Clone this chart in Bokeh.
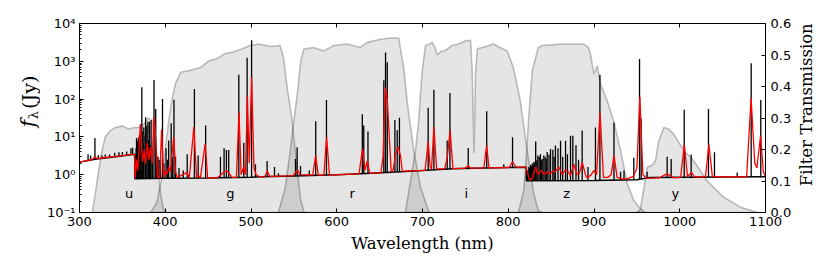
import math
import numpy as np
from bokeh.plotting import figure
from bokeh.layouts import row
from bokeh.models import Range1d, LinearAxis, FixedTicker, PrintfTickFormatter, LinearScale
from bokeh.core.properties import value
from bokeh.embed import file_html
from bokeh.resources import INLINE

# ---------------- data ----------------
# filter transmission curves (wavelength nm, transmission)
u_wl = [315, 320.6, 325, 330, 336, 342, 350, 357, 364, 369, 375, 380.5, 385, 388, 390.6, 394.5, 398, 402]
u_T = [0, 0.10, 0.18, 0.24, 0.26, 0.27, 0.275, 0.265, 0.27, 0.27, 0.28, 0.30, 0.29, 0.24, 0.165, 0.06, 0.01, 0]
g_wl = [383, 390, 396, 400, 404, 408, 412, 418, 427, 441, 450, 461, 470, 480, 490, 499, 509, 523, 534, 538, 542, 548, 554, 558, 562]
g_T = [0, 0.03, 0.11, 0.2, 0.29, 0.36, 0.41, 0.445, 0.45, 0.46, 0.48, 0.49, 0.505, 0.51, 0.52, 0.53, 0.535, 0.527, 0.53, 0.49, 0.4, 0.29, 0.133, 0.04, 0]
r_wl = [532, 540, 545, 550, 554, 558, 561.6, 573, 585, 596.6, 612, 627.7, 635.5, 651, 662.7, 672.4, 674, 678, 682, 689.8, 697.7, 705.5, 708]
r_T = [0, 0.08, 0.18, 0.29, 0.376, 0.48, 0.519, 0.524, 0.513, 0.53, 0.535, 0.524, 0.54, 0.55, 0.554, 0.554, 0.524, 0.46, 0.355, 0.197, 0.08, 0.017, 0]
i_wl = [680, 688, 692, 695.5, 699.6, 703.5, 708, 711.3, 715, 717, 721, 727, 734.5, 742, 750, 756, 758, 760, 762, 764, 770, 783, 793, 798.8, 806, 814, 822, 829.8, 835, 840]
i_T = [0, 0.133, 0.2, 0.29, 0.449, 0.53, 0.535, 0.54, 0.52, 0.5, 0.51, 0.515, 0.53, 0.535, 0.545, 0.547, 0.45, 0.19, 0.45, 0.52, 0.524, 0.535, 0.52, 0.513, 0.46, 0.355, 0.197, 0.06, 0.006, 0]
z_wl = [812, 818, 820, 823.6, 828, 835, 840, 850, 861, 875, 887.7, 893.6, 896, 900, 903.8, 907.6, 915.4, 923, 931, 938.7, 946.4, 954, 960]
z_T = [0, 0.07, 0.133, 0.29, 0.45, 0.524, 0.53, 0.532, 0.535, 0.535, 0.535, 0.524, 0.5, 0.44, 0.466, 0.408, 0.355, 0.29, 0.197, 0.092, 0.038, 0.013, 0]
y_wl = [950, 954, 958, 962, 968, 971.7, 975.6, 981.4, 987, 993, 1004.7, 1016, 1032, 1051, 1071, 1086, 1092]
y_T = [0, 0.01, 0.073, 0.144, 0.15, 0.165, 0.228, 0.27, 0.265, 0.249, 0.197, 0.165, 0.1, 0.049, 0.017, 0.004, 0]
band_names = ["u", "g", "r", "i", "z", "y"]
band_label_wl = [358, 476, 618, 751, 868, 995]
band_label_T = [0.06, 0.06, 0.06, 0.06, 0.06, 0.06]

# high resolution spectrum: continuum knots (nm, Jy)
cont_wl = [300, 320, 340, 364.5, 364.6, 400, 450, 500, 550, 600, 640, 680, 735, 800, 821, 821.1, 900, 950, 965, 1100]
cont_f = [2.15, 2.6, 2.95, 3.5, 0.78, 0.8, 0.82, 0.86, 0.93, 1.0, 1.1, 1.22, 1.43, 1.55, 1.58, 0.69, 0.7, 0.74, 0.84, 0.88]

# emission lines (nm, peak Jy)
line_wl = [310, 313, 318, 322, 326.5, 330, 335, 341, 346, 350, 355, 360, 362,
           365.2, 365.6, 366.0, 366.5, 367.0, 367.5, 368.0, 368.7, 369.3, 370.0, 370.7, 371.5, 372.7, 373.5, 374.2,
           375.0, 376.5, 377.1, 378.5, 379.8, 380.7, 381.6, 382.5, 383.5, 385.0, 386.9, 388.9, 390.0, 391.5, 393.0,
           394.5, 396.8, 398.5, 400.9, 402.5, 404, 406.9, 408.2, 410.2, 412, 416, 421, 425.6, 434.0, 438.4, 447.1,
           464.4, 468.6, 471.3, 474, 485.8, 491.6, 495.5, 500.7, 505.2, 518.8, 527.4, 532, 551.9, 553.8, 557.7, 568,
           575.5, 588, 629.8, 631.5, 636.4, 654.9, 656.9, 658.9, 667.8, 670.5, 673.1, 706.6, 713.3, 728.8, 732.0,
           753.3, 774.9, 794.8, 805,
           822.5, 824, 825, 826, 827, 828, 829, 830, 831, 832, 833.3, 834.5, 836, 837.5, 838.5, 839.6, 841.5, 843,
           844.3, 845.4, 847.5, 849.3, 852, 853.5, 855, 858, 861, 863.5, 866.8, 869, 872.6, 875.3, 879, 882, 886.2,
           893, 901.7,
           906.9, 923.3, 931, 935, 946.4, 953.1, 955, 962, 985.3, 990, 1005.2, 1013.3, 1033.5, 1040.5, 1067, 1083.3, 1094.5]
line_peak = [3.5, 3.2, 9.3, 3.3, 3.2, 3.4, 3.4, 3.8, 3.9, 4.0, 4.1, 5.0, 5.2,
             2.5, 3.5, 5, 9.4, 6, 7, 8, 9, 10, 11, 12, 13, 205, 14, 6,
             18, 11, 33, 20, 25, 8, 25, 6, 28, 4, 320, 55, 3, 3, 2.5,
             2.5, 100, 2, 5, 2.5, 8, 23, 3, 96, 3, 1.5, 1.3, 3.5, 186, 3.2, 20,
             3, 5, 4.5, 4.5, 440, 7, 1240, 3600, 1.9, 2.3, 1.6, 1.1, 2.6, 5.3, 1.7, 1.3,
             26, 95, 40, 20, 14, 316, 1700, 940, 28, 15, 32, 59, 178, 8, 145,
             5.1, 48, 1.9, 9.8,
             1.3, 1.6, 1.5, 1.8, 1.7, 2.0, 1.9, 2.2, 2.0, 7.6, 2.4, 3.2, 3.0, 3.5, 2.4, 2.6, 3.2, 3.0,
             2.6, 4.0, 3.4, 4.8, 4.6, 3.0, 5.9, 5.0, 7.9, 3.0, 7.9, 3.5, 10.7, 10.7, 6, 2.5, 14.8,
             1.6, 17.8,
             440, 24, 1.2, 1.3, 2.8, 1150, 30, 1.2, 3.0, 2.6, 52, 3.4, 55, 3.9, 1.15, 890, 95]

# low resolution (smoothed) spectrum
red_wl = [300, 310, 315, 318, 321, 330, 340, 350, 358, 364, 365, 366.5, 368, 371, 373.5, 375.5, 377, 379, 381, 383,
          384.8, 386.7, 389, 391, 393.5, 395.8, 398, 400, 402, 404, 406, 407.5, 410, 412, 414, 425.5, 428, 433.4,
          436.5, 438.5, 441, 446.5, 449.5, 460, 463, 466, 469, 472, 475, 478, 483, 486, 488.5, 491.5, 493.5, 495.8,
          498, 500.7, 503.5, 506, 510, 516, 519, 522, 545, 549, 552, 554.5, 557, 572, 575.4, 578.5, 585, 588.2,
          591.5, 626, 630, 633, 635.7, 638.5, 651.5, 654, 656.7, 659, 661.5, 663.5, 666, 668.5, 671.8, 674.5, 676.5,
          703, 706.6, 709, 710.5, 713.3, 716.5, 726, 729, 732.2, 735.5, 750, 753.3, 756, 771.5, 774.8, 777.5, 801,
          805, 809, 820.5, 822, 825, 828, 832, 835, 838.6, 842, 845, 849, 852, 855, 859, 863, 866.8, 870, 872.5,
          876.5, 880, 883, 886.3, 891, 896, 900, 903, 907, 911, 916, 920, 923.3, 927, 935, 940, 946, 950, 953.5,
          957, 961, 976, 981, 985, 989, 993, 1001, 1005.3, 1009, 1011, 1013.8, 1017, 1030, 1034, 1038, 1045, 1078,
          1083.2, 1087.5, 1090, 1094.2, 1097.5, 1100]
red_f = [2.15, 2.4, 2.55, 3.0, 2.65, 2.85, 3.0, 3.2, 3.35, 3.5, 0.8, 2.5, 1.3, 22, 2.2, 4.5, 2.0, 7.0, 2.5, 5.5,
         2.0, 33, 9, 0.85, 0.85, 16, 0.85, 1.3, 1.0, 1.6, 1.2, 2.8, 10, 1.2, 0.85, 1.15, 0.82, 18.6,
         0.85, 0.95, 0.82, 6.5, 0.82, 0.82, 0.9, 1.05, 1.2, 1.25, 1.05, 0.85, 0.85, 45, 1.0, 1.6, 1.0, 120,
         2.0, 370, 1.5, 1.0, 0.88, 0.88, 1.25, 0.9, 0.93, 0.95, 1.15, 1.3, 1.0, 0.97, 3.2, 0.97, 0.97, 9.8,
         0.98, 1.05, 4.8, 1.3, 2.3, 1.1, 1.1, 3, 200, 90, 8, 1.2, 1.4, 3.5, 5.5, 3.0, 1.25,
         1.3, 7.6, 1.6, 1.4, 18.6, 1.4, 1.45, 3.0, 15, 1.45, 1.5, 1.75, 1.5, 1.52, 5.9, 1.52, 1.55,
         2.2, 1.58, 1.58, 1.2, 0.72, 0.8, 1.6, 1.0, 1.3, 1.0, 1.2, 1.05, 1.25, 1.2, 1.6, 1.0, 1.35, 1.2, 0.95,
         1.9, 1.0, 1.1, 2.1, 0.85, 0.95, 1.3, 1.0, 45, 0.85, 0.85, 1.0, 3.2, 0.85, 0.75, 0.8, 0.9, 1.5, 115,
         1.0, 0.8, 0.82, 0.95, 1.05, 0.95, 0.83, 0.85, 6.3, 0.9, 1.0, 1.15, 0.88, 0.88, 6.3, 0.9, 0.88, 0.88,
         107, 2.0, 1.5, 10.7, 1.2, 0.9]

x_ticks = [300, 400, 500, 600, 700, 800, 900, 1000, 1100]
flux_ticks = [0.1, 1, 10, 100, 1000, 10000]
flux_tick_labels = ["10⁻¹", "10⁰", "10¹", "10²", "10³", "10⁴"]
trans_ticks = [0.0, 0.1, 0.2, 0.3, 0.4, 0.5, 0.6]
left_title_parts = ["f", "λ", "(Jy)"]
right_title = "Filter Transmission"

# ---------------- layout geometry (pixels) ----------------
H = 272
LEFT_W = 40          # strip holding the left axis title
RIGHT_W = 28         # strip holding the right axis title
FRAME_L, FRAME_R, FRAME_T, FRAME_B = 79, 765, 23, 212
MAIN_W = 796 - LEFT_W

tick_font = "DejaVu Sans"
label_font = "DejaVu Serif"


def text_strip(width):
    s = figure(width=width, height=H, x_range=Range1d(0, width), y_range=Range1d(0, H),
               output_backend="svg", toolbar_location=None,
               x_axis_location=None, y_axis_location=None,
               min_border=0, min_border_left=0, min_border_right=0, min_border_top=0, min_border_bottom=0)
    s.xgrid.visible = False
    s.ygrid.visible = False
    s.outline_line_color = None
    return s


# left title: italic f, subscript lambda, upright unit (positions in strip pixels)
lt = text_strip(LEFT_W)
for txt, px, py, size, style in zip(left_title_parts, [27, 33, 28], [144, 132, 99],
                                    ["20px", "13px", "19px"], ["italic", "normal", "normal"]):
    lt.text(x=[px], y=[H - py], text=[txt], angle=math.pi / 2, text_align="center",
            text_baseline="middle", text_font=value(label_font), text_font_size=size,
            text_font_style=style, text_color="black")

# right title
rt = text_strip(RIGHT_W)
rt.text(x=[805.5 - 796], y=[H - 117], text=[right_title], angle=math.pi / 2, text_align="center",
        text_baseline="middle", text_font=value(label_font), text_font_size="16.5px",
        text_color="black")

# ---------------- main figure ----------------
p = figure(width=MAIN_W, height=H, y_axis_type="log",
           x_range=Range1d(300, 1100), y_range=Range1d(0.1, 1e4),
           output_backend="svg", toolbar_location=None,
           min_border_left=FRAME_L - LEFT_W, min_border_right=796 - FRAME_R,
           min_border_top=FRAME_T, min_border_bottom=H - FRAME_B)
p.extra_y_ranges = {"trans": Range1d(0, 0.6)}
p.extra_y_scales = {"trans": LinearScale()}
p.xgrid.visible = False
p.ygrid.visible = False
p.outline_line_color = "black"
p.outline_line_width = 1
p.outline_line_alpha = 1
p.background_fill_color = "white"


def style_axis(ax):
    ax.axis_line_color = "black"
    ax.major_tick_line_color = "black"
    ax.minor_tick_line_color = "black"
    ax.major_tick_in = 4
    ax.major_tick_out = 0
    ax.minor_tick_in = 2
    ax.minor_tick_out = 0
    ax.major_label_text_font = tick_font
    ax.major_label_text_font_size = "13px"
    ax.major_label_text_color = "black"
    ax.axis_label_text_font = label_font
    ax.axis_label_text_font_style = "normal"
    ax.axis_label_text_font_size = "16.5px"
    ax.axis_label_text_color = "black"


# bottom axis
xa = p.xaxis[0]
style_axis(xa)
xa.ticker = FixedTicker(ticks=x_ticks, minor_ticks=[])
xa.axis_label = "Wavelength (nm)"
xa.major_label_standoff = 4
xa.axis_label_standoff = 5

# left axis
ya = p.yaxis[0]
style_axis(ya)
minor = [m * d for d in [0.1, 1, 10, 100, 1000] for m in range(2, 10)]
ya.ticker = FixedTicker(ticks=flux_ticks, minor_ticks=minor)
ya.major_label_overrides = {t: l for t, l in zip(flux_ticks, flux_tick_labels)}
ya.major_label_standoff = 4

# right axis
ra = LinearAxis(y_range_name="trans")
style_axis(ra)
ra.ticker = FixedTicker(ticks=trans_ticks, minor_ticks=[])
ra.formatter = PrintfTickFormatter(format="%.1f")
ra.major_label_standoff = 5
p.add_layout(ra, "right")

# top axis (ticks only)
ta = LinearAxis()
style_axis(ta)
ta.ticker = FixedTicker(ticks=x_ticks, minor_ticks=[])
ta.major_label_overrides = {t: "" for t in x_ticks}
ta.major_label_standoff = 0
p.add_layout(ta, "above")

# filters
for wl, T in [(u_wl, u_T), (g_wl, g_T), (r_wl, r_T), (i_wl, i_T), (z_wl, z_T), (y_wl, y_T)]:
    p.patch(x=wl, y=T, y_range_name="trans", fill_color="black", fill_alpha=0.1,
            line_color="black", line_alpha=0.24, line_width=1.6)

p.text(x=band_label_wl, y=band_label_T, text=band_names, y_range_name="trans",
       text_align="center", text_baseline="middle", text_font=value(tick_font),
       text_font_size="13px", text_color="black")

# high resolution spectrum
line_base = np.interp(line_wl, cont_wl, cont_f)
p.segment(x0=line_wl, y0=line_base, x1=line_wl, y1=line_peak, line_color="black", line_width=1.3)
p.line(cont_wl, cont_f, line_color="black", line_width=1.5)

# smoothed spectrum
p.line(red_wl, red_f, line_color="red", line_width=1.3)

layout = row(lt, p, rt, spacing=0)
open("out.html", "w").write(file_html(layout, INLINE))
